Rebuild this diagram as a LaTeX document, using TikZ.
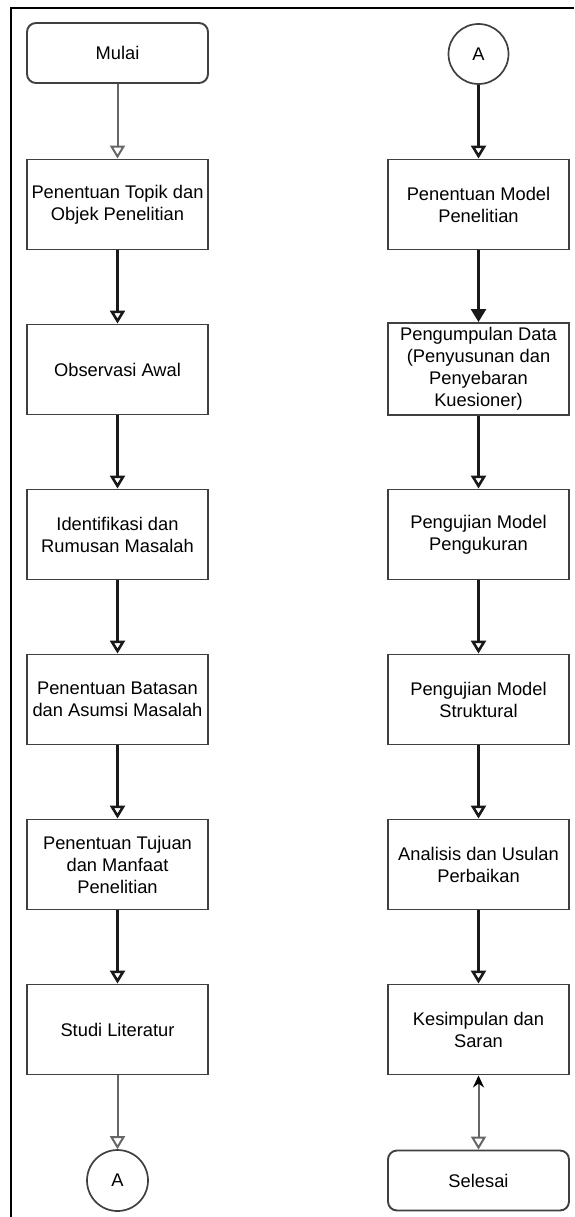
\documentclass[tikz,border=0pt]{standalone}
\usepackage{fontspec}
\setmainfont{Liberation Sans}
\usetikzlibrary{arrows.meta}
\tikzset{
	kotak/.style={draw=black!75,line width=1.9,minimum width=181,minimum height=90,align=center,inner sep=2},
	terminal/.style={kotak,rounded corners=9,minimum height=60},
	konektor/.style={draw=black!75,line width=1.7,circle,minimum size=60,inner sep=0},
	alur/.style={draw=black!60,line width=2,-{Triangle[open,length=13,width=15]}},
	alurgelap/.style={draw=black!90,line width=2.6,-{Triangle[open,length=13,width=15]}},
	alurpenuh/.style={draw=black!90,line width=2.6,-{Triangle[length=13,width=15]}}
}
\begin{document}
\begin{tikzpicture}[x=1pt,y=-1pt,font=\fontsize{18.3}{22}\selectfont]
	\useasboundingbox (0,0) rectangle (574,1217);
	\draw[line width=2.4] (11,1217) -- (11,8) -- (574,8);
	% kolom kiri
	\node[terminal] (mulai) at (117.5,53) {Mulai};
	\node[kotak] (topik) at (117.5,204.5) {Penentuan Topik dan\\Objek Penelitian};
	\node[kotak] (obs) at (117.5,369.5) {Observasi Awal};
	\node[kotak] (idn) at (117.5,534.5) {Identifikasi dan\\Rumusan Masalah};
	\node[kotak] (batas) at (117.5,699.5) {Penentuan Batasan\\dan Asumsi Masalah};
	\node[kotak] (tujuan) at (117.5,864.5) {Penentuan Tujuan\\dan Manfaat\\Penelitian};
	\node[kotak] (studi) at (117.5,1029.5) {Studi Literatur};
	\node[konektor,minimum size=61] (akiri) at (117.5,1180.5) {A};
	% kolom kanan
	\node[konektor] (akanan) at (478.5,54) {A};
	\node[kotak] (model) at (478.5,204.5) {Penentuan Model\\Penelitian};
	\node[kotak,minimum height=92] (data) at (478.5,369) {Pengumpulan Data\\(Penyusunan dan\\Penyebaran\\Kuesioner)};
	\node[kotak] (ukur) at (478.5,534.5) {Pengujian Model\\Pengukuran};
	\node[kotak] (struk) at (478.5,699.5) {Pengujian Model\\Struktural};
	\node[kotak] (analisis) at (478.5,864.5) {Analisis dan Usulan\\Perbaikan};
	\node[kotak] (simpul) at (478.5,1029.5) {Kesimpulan dan\\Saran};
	\node[terminal] (selesai) at (478.5,1180.5) {Selesai};
	% panah
	\draw[alur] (mulai) -- (topik);
	\draw[alurgelap] (topik) -- (obs);
	\draw[alurgelap] (obs) -- (idn);
	\draw[alurgelap] (idn) -- (batas);
	\draw[alurgelap] (batas) -- (tujuan);
	\draw[alurgelap] (tujuan) -- (studi);
	\draw[alur] (studi) -- (akiri);
	\draw[alurgelap] (akanan) -- (model);
	\draw[alurpenuh] (model) -- (data);
	\draw[alurgelap] (data) -- (ukur);
	\draw[alurgelap] (ukur) -- (struk);
	\draw[alurgelap] (struk) -- (analisis);
	\draw[alurgelap] (analisis) -- (simpul);
	\draw[alur,{Stealth[length=12,width=11,black]}-{Triangle[open,length=13,width=15]}] (simpul) -- (selesai);
\end{tikzpicture}
\end{document}
